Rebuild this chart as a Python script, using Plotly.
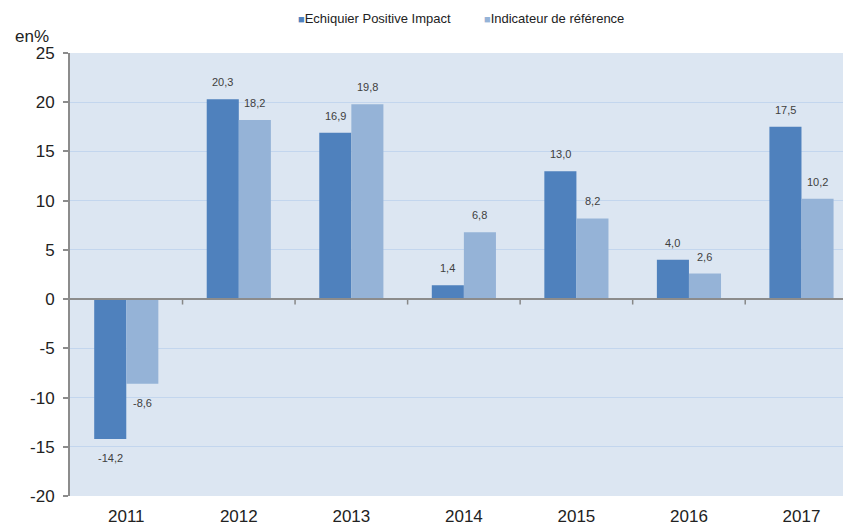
import plotly.graph_objects as go

years = ["2011", "2012", "2013", "2014", "2015", "2016", "2017"]
fund = [-14.2, 20.3, 16.9, 1.4, 13.0, 4.0, 17.5]
bench = [-8.6, 18.2, 19.8, 6.8, 8.2, 2.6, 10.2]
fund_name = "Echiquier Positive Impact"
bench_name = "Indicateur de référence"
y_ticks = [-20, -15, -10, -5, 0, 5, 10, 15, 20, 25]

DARK = "#4F81BD"
LIGHT = "#95B3D7"
FONT = "Liberation Sans, Arial, sans-serif"

# page body has an 8px margin: compensate in the figure margins
ML, MT, MR, MB = 62, 45, 8, 39
W, H = 851, 527
PW, PH = W - ML - MR, H - MT - MB

xs = list(range(len(years)))

fig = go.Figure()
fig.add_trace(go.Bar(x=xs, y=fund, name=fund_name, marker=dict(color=DARK, line=dict(width=0))))
fig.add_trace(go.Bar(x=xs, y=bench, name=bench_name, marker=dict(color=LIGHT, line=dict(width=0))))

def fmt(v):
    return f"{v:.1f}".replace(".", ",")

annotations = []
for series, shift in ((fund, -16), (bench, 16)):
    for x, v in zip(xs, series):
        annotations.append(dict(
            x=x, y=v, xref="x", yref="y", text=fmt(v), showarrow=False,
            xshift=shift, yshift=17 if v >= 0 else -19,
            font=dict(size=11, color="#404040", family=FONT),
        ))
annotations.append(dict(
    x=0, y=1.0, xref="paper", yref="paper", xanchor="left", yanchor="bottom",
    xshift=-57, yshift=5, text="en%", showarrow=False,
    font=dict(size=17, color="#222222", family=FONT),
))
# legend entries (screen px -> paper coords)
for name, color, xpx in ((fund_name, DARK, 296), (bench_name, LIGHT, 482)):
    annotations.append(dict(
        x=(xpx - 8 - ML) / PW, y=1 + (MT - (18 - 8)) / PH, xref="paper", yref="paper",
        xanchor="left", yanchor="middle", showarrow=False,
        text=f'<span style="color:{color};font-size:11px">■</span>{name}',
        font=dict(size=13, color="#222222", family=FONT),
    ))

shapes = []
for i in range(len(years) - 1):
    shapes.append(dict(type="line", xref="x", yref="y", x0=i + 0.5, x1=i + 0.5,
                       y0=0, y1=-0.55, line=dict(color="#888888", width=1.5)))
shapes.append(dict(type="line", xref="paper", yref="y", x0=0, x1=1, y0=0, y1=0,
                   line=dict(color="#8C8C8C", width=2), layer="above"))

fig.update_layout(
    width=W, height=H,
    margin=dict(l=ML, r=MR, t=MT, b=MB, autoexpand=False),
    paper_bgcolor="white",
    plot_bgcolor="#DCE6F2",
    barmode="group",
    bargap=0.43,
    bargroupgap=0,
    font=dict(family=FONT, color="#222222"),
    showlegend=False,
    annotations=annotations,
    shapes=shapes,
)
fig.update_xaxes(
    tickmode="array", tickvals=xs, ticktext=years,
    range=[-0.5, 6.44], showgrid=False, zeroline=False, showline=False,
    ticks="", ticklabelstandoff=8,
    tickfont=dict(size=17, color="#222222", family=FONT), automargin=False,
)
fig.update_yaxes(
    range=[-20, 25], tickmode="array", tickvals=y_ticks,
    ticktext=[str(t) for t in y_ticks],
    showgrid=True, gridcolor="#C3D6EE", gridwidth=1,
    zeroline=False, showline=True, linecolor="#8C8C8C", linewidth=2,
    ticks="outside", ticklen=5, tickcolor="#8C8C8C", tickwidth=1.5,
    ticklabelstandoff=5,
    tickfont=dict(size=17, color="#222222", family=FONT), automargin=False,
)

fig.write_html("out.html")
